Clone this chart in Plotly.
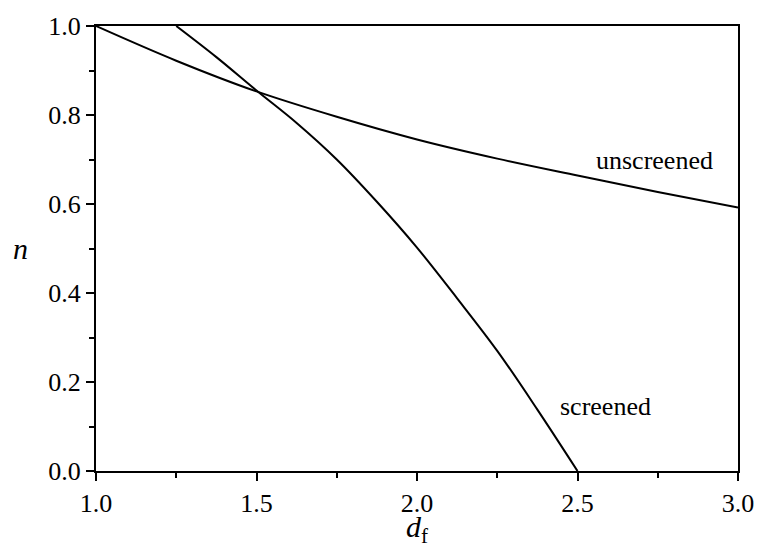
import plotly.graph_objects as go

# Fractal dimension d_f and exponent n for the two cases
df_unscreened = [1.0, 1.25, 1.5, 1.75, 2.0, 2.25, 2.5, 2.75, 3.0]
n_unscreened = [1.0, 0.922, 0.853, 0.796, 0.745, 0.702, 0.664, 0.627, 0.592]

df_screened = [1.25, 1.375, 1.5, 1.625, 1.75, 1.875, 2.0, 2.125, 2.25, 2.375, 2.5]
n_screened = [1.0, 0.93, 0.855, 0.782, 0.700, 0.605, 0.502, 0.388, 0.270, 0.138, 0.0]

x_ticks = [1.0, 1.5, 2.0, 2.5, 3.0]
y_ticks = [0.0, 0.2, 0.4, 0.6, 0.8, 1.0]

FONT = "Liberation Serif"
line_style = dict(color="black", width=2)

fig = go.Figure()
fig.add_trace(go.Scatter(x=df_unscreened, y=n_unscreened, mode="lines",
                         line=dict(**line_style, shape="spline", smoothing=1.0),
                         showlegend=False, hoverinfo="skip"))
fig.add_trace(go.Scatter(x=df_screened, y=n_screened, mode="lines",
                         line=dict(**line_style, shape="spline", smoothing=1.0),
                         showlegend=False, hoverinfo="skip"))

axis_common = dict(
    showgrid=False, zeroline=False,
    showline=True, linecolor="black", linewidth=2, mirror=True,
    ticks="outside", ticklen=8, tickwidth=2, tickcolor="black",
    tickfont=dict(family=FONT, size=26, color="black"),
)

fig.update_xaxes(range=[1.0, 3.0], tickvals=x_ticks,
                 ticktext=[f"{v:.1f}" for v in x_ticks],
                 minor=dict(dtick=0.25, tick0=1.0, ticks="outside", ticklen=5,
                            tickwidth=2, tickcolor="black"),
                 **axis_common)
fig.update_yaxes(range=[0.0, 1.0], tickvals=y_ticks,
                 ticktext=[f"{v:.1f}" for v in y_ticks],
                 minor=dict(dtick=0.1, tick0=0.0, ticks="outside", ticklen=5,
                            tickwidth=2, tickcolor="black"),
                 **axis_common)

annot_font = dict(family=FONT, size=26, color="black")
fig.add_annotation(x=2.741, y=0.697, xref="x", yref="y", text="unscreened",
                   showarrow=False, font=annot_font, xanchor="center", yanchor="middle")
fig.add_annotation(x=2.586, y=0.146, xref="x", yref="y", text="screened",
                   showarrow=False, font=annot_font, xanchor="center", yanchor="middle")

# Axis titles
fig.add_annotation(x=0.5, y=-0.178, xref="paper", yref="paper",
                   text="<i>d</i><sub>f</sub>", showarrow=False,
                   font=dict(family=FONT, size=30, color="black"),
                   xanchor="center", yanchor="bottom")
fig.add_annotation(x=-0.118, y=0.5, xref="paper", yref="paper",
                   text="<i>n</i>", showarrow=False,
                   font=dict(family=FONT, size=30, color="black"),
                   xanchor="center", yanchor="middle")

fig.update_layout(
    width=766, height=556,
    margin=dict(l=96, r=22, t=17, b=85),
    paper_bgcolor="white", plot_bgcolor="white",
    font=dict(family=FONT, color="black"),
)

fig.write_html("out.html")
